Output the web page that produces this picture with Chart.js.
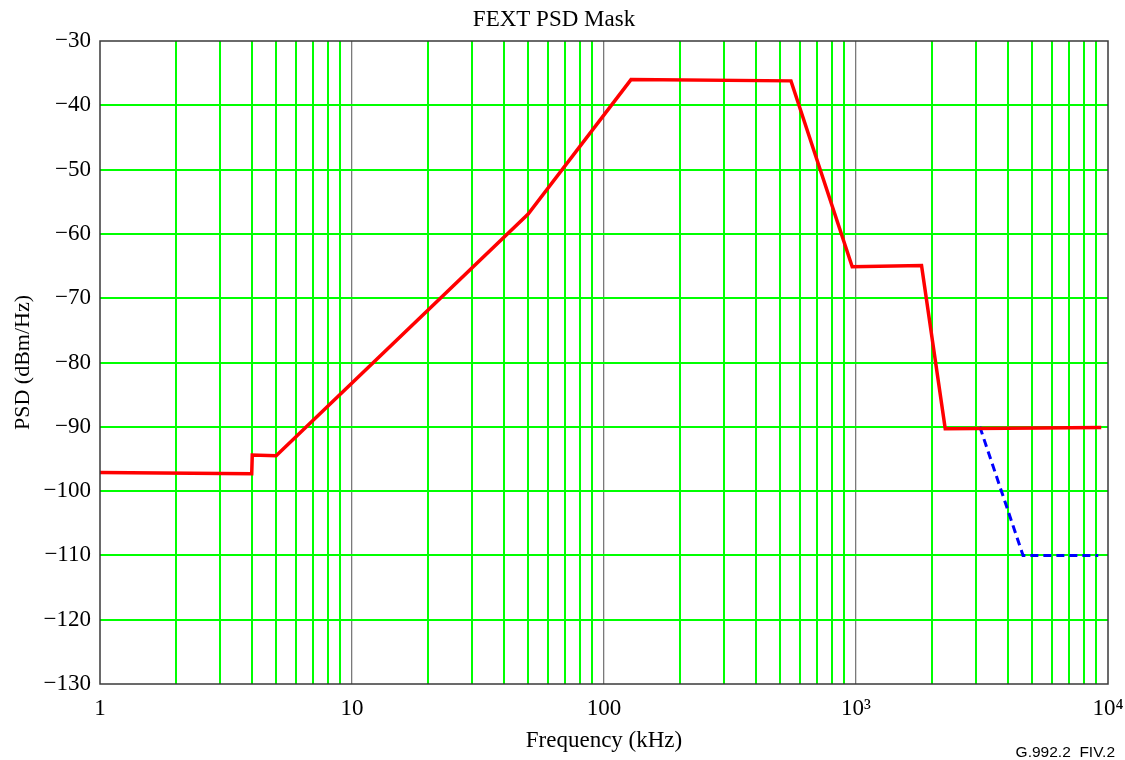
<!DOCTYPE html>
<html>
<head>
<meta charset="utf-8">
<title>FEXT PSD Mask</title>
<script src="https://cdn.jsdelivr.net/npm/chart.js@4.4.1/dist/chart.umd.min.js"></script>
<style>
    html, body { margin: 0; padding: 0; background: #fff; }
    #wrap { width: 1125px; height: 760px; }
</style>
</head>
<body>
<div id="wrap"><canvas id="psdChart" width="1125" height="760"></canvas></div>
<script>
/* Datos (frecuencia en kHz, PSD en dBm/Hz) */
const redFreq = [1, 4, 4.02, 5, 50, 128, 552, 966, 1820, 2260, 9400];
const redPsd = [-97.1, -97.3, -94.4, -94.5, -56.9, -36.0, -36.2, -65.1, -64.9, -90.3, -90.1];

const blueFreq = [3100, 4600, 9150];
const bluePsd = [-90.0, -110.0, -110.0];

const decades = [1, 10, 100, 1000, 10000];
const decadeLabels = ["1", "10", "100", "10\u00B3", "10\u2074"];
const yMin = -130;
const yMax = -30;

const SERIF = "'Liberation Serif', 'Times New Roman', serif";
const SANS = "'Liberation Sans', Arial, sans-serif";

// ticks menores 2..9 de cada década
const xTicks = [];
decades.forEach((d, i) => {
    xTicks.push(d);
    if (i < decades.length - 1) {
        for (let k = 2; k <= 9; k++) xTicks.push(d * k);
    }
});

const toPoints = (xs, ys) => xs.map((x, i) => ({ x: x, y: ys[i] }));

const framePlugin = {
    id: "frame",
    afterDraw(chart) {
        const { ctx, chartArea: a } = chart;
        ctx.save();
        ctx.strokeStyle = "#3a3a3a";
        ctx.lineWidth = 1.5;
        ctx.strokeRect(a.left, a.top, a.right - a.left, a.bottom - a.top);

        ctx.fillStyle = "#000";
        ctx.font = "15.5px " + SANS;
        ctx.textAlign = "right";
        ctx.textBaseline = "alphabetic";
        ctx.fillText("G.992.2  FIV.2", 1115, 757);
        ctx.restore();
    }
};

const ctx = document.getElementById("psdChart").getContext("2d");

new Chart(ctx, {
    type: "line",
    data: {
        datasets: [{
            data: toPoints(redFreq, redPsd),
            borderColor: "#ff0000",
            borderWidth: 3.5,
            pointRadius: 0,
            tension: 0,
            fill: false
        }, {
            data: toPoints(blueFreq, bluePsd),
            borderColor: "#0000ff",
            borderWidth: 3,
            borderDash: [8, 5],
            pointRadius: 0,
            tension: 0,
            fill: false
        }]
    },
    options: {
        responsive: false,
        animation: false,
        layout: {
            padding: { top: 0, right: 17, bottom: 0, left: 0 }
        },
        plugins: {
            legend: { display: false },
            tooltip: { enabled: false },
            title: {
                display: true,
                text: "FEXT PSD Mask",
                color: "#000",
                font: { family: SERIF, size: 23, weight: "normal" },
                padding: { top: 6, bottom: 7.4 }
            }
        },
        scales: {
            x: {
                type: "logarithmic",
                min: 1,
                max: 10000,
                border: { display: false },
                afterBuildTicks: (scale) => {
                    scale.ticks = xTicks.map(v => ({ value: v }));
                },
                afterFit: (scale) => {
                    scale.height = 76;
                    scale.paddingLeft = 0;
                    scale.paddingRight = 0;
                },
                grid: {
                    drawTicks: false,
                    color: (c) => {
                        const v = c.tick && c.tick.value;
                        if (v === 1 || v === 10000) return "rgba(0,0,0,0)";
                        return decades.includes(v) ? "#7a7a7a" : "#00ff00";
                    },
                    lineWidth: (c) => decades.includes(c.tick && c.tick.value) ? 1.3 : 2
                },
                ticks: {
                    autoSkip: false,
                    maxRotation: 0,
                    minRotation: 0,
                    padding: 11,
                    color: "#000",
                    font: { family: SERIF, size: 23 },
                    callback: (value) => {
                        const i = decades.indexOf(value);
                        return i >= 0 ? decadeLabels[i] : "";
                    }
                },
                title: {
                    display: true,
                    text: "Frequency (kHz)",
                    color: "#000",
                    font: { family: SERIF, size: 23 },
                    padding: { top: 0, bottom: 5 }
                }
            },
            y: {
                min: yMin,
                max: yMax,
                border: { display: false },
                afterFit: (scale) => { scale.width = 100; },
                grid: {
                    drawTicks: false,
                    color: (c) => {
                        const v = c.tick && c.tick.value;
                        return (v === yMin || v === yMax) ? "rgba(0,0,0,0)" : "#00ff00";
                    },
                    lineWidth: 2
                },
                ticks: {
                    stepSize: 10,
                    padding: 9,
                    color: "#000",
                    font: { family: SERIF, size: 23 },
                    callback: (value) => String(value).replace("-", "\u2212")
                },
                title: {
                    display: true,
                    text: "PSD (dBm/Hz)",
                    color: "#000",
                    font: { family: SERIF, size: 22 },
                    padding: { top: 10, bottom: 0 }
                }
            }
        }
    },
    plugins: [framePlugin]
});
</script>
</body>
</html>
